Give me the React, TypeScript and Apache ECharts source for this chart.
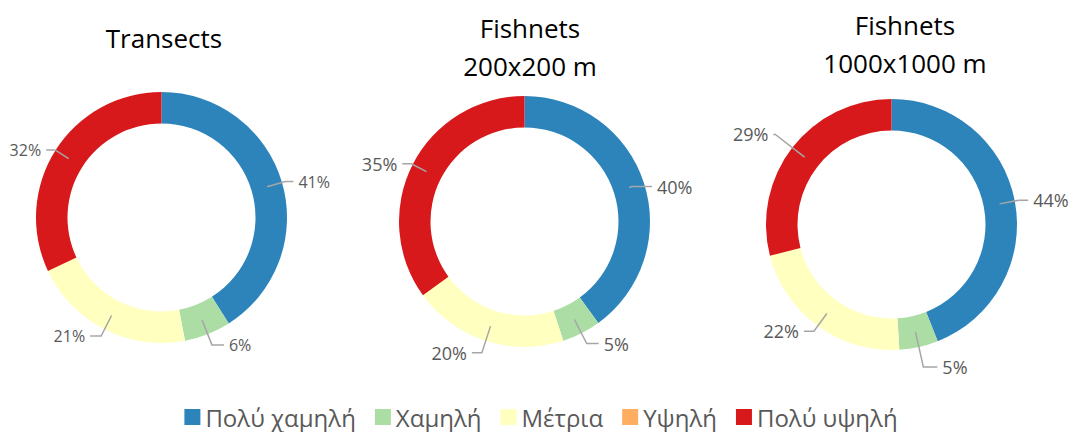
import React, { useEffect, useRef } from "react";
import * as echarts from "echarts";

const categories = ["Πολύ χαμηλή", "Χαμηλή", "Μέτρια", "Υψηλή", "Πολύ υψηλή"];
const colors = ["#2c84bb", "#abdda4", "#ffffbf", "#fdae61", "#d7191c"];
const transects = [41, 6, 21, 0, 32];
const fishnets200 = [40, 5, 20, 0, 35];
const fishnets1000 = [44, 5, 22, 0, 29];
const titles = ["Transects", "Fishnets\n200x200 m", "Fishnets\n1000x1000 m"];
const seriesValues = [transects, fishnets200, fishnets1000];

const FONT = "'Open Sans', 'Noto Sans', sans-serif";

const layouts = [
  {
    center: [161.5, 217.5], titleX: 164, titleTop: 19, labelSize: 16,
    lines: [[19, 8], [27, 12], [23, 11], [10, 10], [16, 9]],
  },
  {
    center: [524.5, 221.5], titleX: 530, titleTop: 9, labelSize: 18,
    lines: [[3, 20], [27, 12], [28, 10], [10, 10], [17, 9]],
  },
  {
    center: [891.5, 224.5], titleX: 905, titleTop: 6, labelSize: 18,
    lines: [[20, 9], [36, 14], [22, 10], [10, 10], [37, 2]],
  },
];

export default function App() {
  const ref = useRef<HTMLDivElement>(null);
  useEffect(() => {
    document.body.style.margin = "0";
    const chart = echarts.init(ref.current!, null, { renderer: "svg" });
    const series: any[] = [];
    seriesValues.forEach((vals, i) => {
      const L = layouts[i];
      series.push({
        type: "pie",
        name: titles[i] + "-ring",
        center: L.center,
        radius: [94, 125.5],
        startAngle: 90,
        clockwise: true,
        silent: true,
        z: 2,
        label: { show: false },
        labelLine: { show: false },
        data: categories.map((c, k) => ({ name: c, value: vals[k], itemStyle: { color: colors[k] } })),
      });
    });
    seriesValues.forEach((vals, i) => {
      const L = layouts[i];
      series.push({
        type: "pie",
        name: titles[i] + "-labels",
        center: L.center,
        radius: [0, 110],
        startAngle: 90,
        clockwise: true,
        silent: true,
        avoidLabelOverlap: false,
        z: 5,
        itemStyle: { color: "rgba(0,0,0,0)" },
        label: {
          show: true,
          position: "outside",
          formatter: "{c}%",
          color: "#595959",
          fontFamily: FONT,
          fontSize: L.labelSize,
          distanceToLabelLine: 5,
          overflow: "none",
        },
        labelLine: {
          show: true,
          lineStyle: { color: "#a6a6a6", width: 1.5 },
        },
        data: categories.map((c, k) => ({
          name: c,
          value: vals[k],
          label: { show: vals[k] > 0 },
          labelLine: { show: vals[k] > 0, length: L.lines[k][0], length2: L.lines[k][1] },
        })),
      });
    });
    chart.setOption({
      animation: false,
      backgroundColor: "#ffffff",
      title: titles.map((t, i) => ({
        text: t,
        left: layouts[i].titleX,
        top: layouts[i].titleTop,
        textAlign: "center",
        padding: 0,
        textStyle: {
          fontFamily: FONT,
          fontSize: 26,
          fontWeight: "normal",
          color: "#000000",
          lineHeight: 38,
        },
      })),
      legend: {
        data: categories,
        left: "center",
        top: 400,
        itemWidth: 16,
        itemHeight: 16,
        itemGap: 19,
        icon: "rect",
        textStyle: { fontFamily: FONT, fontSize: 24, color: "#595959" },
        selectedMode: false,
      },
      series,
    });
    return () => chart.dispose();
  }, []);
  return <div ref={ref} style={{ width: 1082, height: 432 }} />;
}
